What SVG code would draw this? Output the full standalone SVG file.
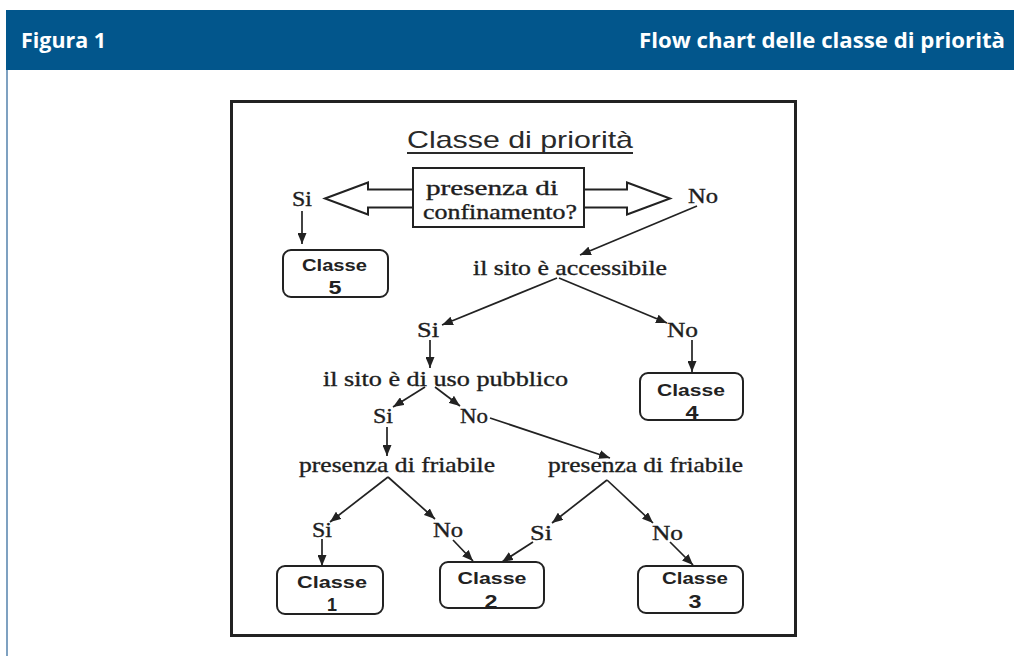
<svg xmlns="http://www.w3.org/2000/svg" width="1014" height="656" viewBox="0 0 1014 656">
<defs>
<style>
.hdr{font-family:"Open Sans","Noto Sans",sans-serif;font-weight:700;font-size:21px;fill:#fff}
.lbl{font-family:"Liberation Serif","Times New Roman",serif;font-size:21px;fill:#1e1e1e;stroke:#1e1e1e;stroke-width:0.35}
.cls{font-family:"Liberation Sans",Arial,sans-serif;font-weight:700;font-size:16.5px;fill:#222;text-anchor:middle}
.num{font-family:"Liberation Sans",Arial,sans-serif;font-weight:700;font-size:18px;fill:#222;text-anchor:middle}
.ttl{font-family:"Liberation Sans",Arial,sans-serif;font-size:24px;fill:#2a2a2a}
.box{fill:#fff;stroke:#222;stroke-width:2}
.con line{stroke:#222;stroke-width:1.7;marker-end:url(#ah)}
</style>
<marker id="ah" markerUnits="userSpaceOnUse" markerWidth="11" markerHeight="9" refX="11" refY="4.5" orient="auto" viewBox="0 0 11 9">
<path d="M0,0 L11,4.5 L0,9 z" fill="#222"/>
</marker>
</defs>
<rect x="0" y="0" width="1014" height="656" fill="#fff"/>
<g id="header">
<rect x="6" y="10" width="1008" height="60" fill="#02568C"/>
<line x1="7" y1="70" x2="7" y2="656" stroke="#3a6fa0" stroke-width="1.3"/>
<text class="hdr" x="21" y="48" textLength="85" lengthAdjust="spacingAndGlyphs">Figura 1</text>
<text class="hdr" x="639" y="48" textLength="366" lengthAdjust="spacingAndGlyphs">Flow chart delle classe di priorità</text>
</g>
<rect id="frame" x="231.5" y="101.5" width="564" height="534" fill="#fff" stroke="#222" stroke-width="3"/>
<g id="title">
<text class="ttl" x="407" y="148" textLength="226" lengthAdjust="spacingAndGlyphs">Classe di priorità</text>
<line x1="407" y1="153" x2="633" y2="153" stroke="#2a2a2a" stroke-width="2"/>
</g>
<g id="confinamento">
<polygon points="325,198.5 368,182.5 368,189.5 627,189.5 627,182.5 670,198.5 627,214.5 627,207.5 368,207.5 368,214.5" fill="#fff" stroke="#222" stroke-width="2" stroke-linejoin="miter"/>
<rect x="413" y="168" width="171" height="59" fill="#fff" stroke="#222" stroke-width="2"/>
<text class="lbl" x="426" y="195" textLength="132" lengthAdjust="spacingAndGlyphs">presenza di</text>
<text class="lbl" x="423" y="219" textLength="154" lengthAdjust="spacingAndGlyphs">confinamento?</text>
</g>
<g id="labels">
<text class="lbl" x="292" y="206" textLength="20" lengthAdjust="spacingAndGlyphs">Si</text>
<text class="lbl" x="688" y="203" textLength="30" lengthAdjust="spacingAndGlyphs">No</text>
<text class="lbl" x="473" y="275" textLength="194" lengthAdjust="spacingAndGlyphs">il sito è accessibile</text>
<text class="lbl" x="417" y="337" textLength="22" lengthAdjust="spacingAndGlyphs">Si</text>
<text class="lbl" x="667" y="337" textLength="31" lengthAdjust="spacingAndGlyphs">No</text>
<text class="lbl" x="323" y="386" textLength="245" lengthAdjust="spacingAndGlyphs">il sito è di uso pubblico</text>
<text class="lbl" x="373" y="423" textLength="20" lengthAdjust="spacingAndGlyphs">Si</text>
<text class="lbl" x="460" y="423" textLength="28" lengthAdjust="spacingAndGlyphs">No</text>
<text class="lbl" x="299" y="472" textLength="196" lengthAdjust="spacingAndGlyphs">presenza di friabile</text>
<text class="lbl" x="548" y="472" textLength="195" lengthAdjust="spacingAndGlyphs">presenza di friabile</text>
<text class="lbl" x="312" y="537" textLength="20" lengthAdjust="spacingAndGlyphs">Si</text>
<text class="lbl" x="433" y="537" textLength="30" lengthAdjust="spacingAndGlyphs">No</text>
<text class="lbl" x="530" y="540" textLength="22" lengthAdjust="spacingAndGlyphs">Si</text>
<text class="lbl" x="652" y="540" textLength="31" lengthAdjust="spacingAndGlyphs">No</text>
</g>
<g id="classe5">
<rect class="box" x="283" y="250" width="105" height="47" rx="8"/>
<text class="cls" x="334.5" y="271" textLength="65" lengthAdjust="spacingAndGlyphs">Classe</text>
<text class="num" x="335" y="294" textLength="13" lengthAdjust="spacingAndGlyphs">5</text>
</g>
<g id="classe4">
<rect class="box" x="640" y="373" width="103" height="47" rx="8"/>
<text class="cls" x="691" y="396" textLength="68" lengthAdjust="spacingAndGlyphs">Classe</text>
<text class="num" x="692" y="419" textLength="13" lengthAdjust="spacingAndGlyphs">4</text>
</g>
<g id="classe1">
<rect class="box" x="277" y="566" width="106" height="48" rx="8"/>
<text class="cls" x="332" y="588" textLength="70" lengthAdjust="spacingAndGlyphs">Classe</text>
<text class="num" x="332" y="611" textLength="10" lengthAdjust="spacingAndGlyphs">1</text>
</g>
<g id="classe2">
<rect class="box" x="440" y="562" width="104" height="46" rx="8"/>
<text class="cls" x="492" y="584" textLength="69" lengthAdjust="spacingAndGlyphs">Classe</text>
<text class="num" x="491" y="608" textLength="13" lengthAdjust="spacingAndGlyphs">2</text>
</g>
<g id="classe3">
<rect class="box" x="638" y="566" width="105" height="47" rx="8"/>
<text class="cls" x="695" y="584" textLength="66" lengthAdjust="spacingAndGlyphs">Classe</text>
<text class="num" x="695" y="608" textLength="13" lengthAdjust="spacingAndGlyphs">3</text>
</g>
<g id="connectors" class="con">
<line x1="302" y1="211" x2="302" y2="244"/>
<line x1="697" y1="206" x2="580" y2="255"/>
<line x1="557" y1="278" x2="442" y2="325"/>
<line x1="559" y1="278" x2="667" y2="323"/>
<line x1="692" y1="340" x2="692" y2="372"/>
<line x1="430" y1="340" x2="430" y2="368"/>
<line x1="425" y1="387" x2="393" y2="407"/>
<line x1="435" y1="387" x2="460" y2="406"/>
<line x1="490" y1="418" x2="610" y2="458"/>
<line x1="387" y1="427" x2="387" y2="456"/>
<line x1="388" y1="477" x2="330" y2="522"/>
<line x1="388" y1="477" x2="435" y2="519"/>
<line x1="322" y1="539" x2="322" y2="566"/>
<line x1="453" y1="540" x2="473" y2="561"/>
<line x1="607" y1="480" x2="552" y2="523"/>
<line x1="607" y1="480" x2="653" y2="523"/>
<line x1="533" y1="542" x2="502" y2="562"/>
<line x1="670" y1="542" x2="693" y2="565"/>
</g>
</svg>
